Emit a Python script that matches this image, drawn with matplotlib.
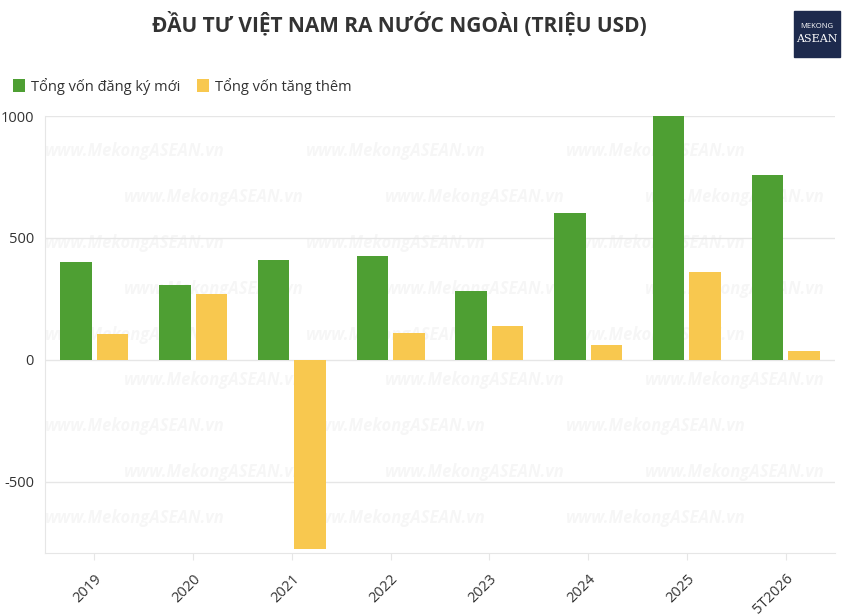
import numpy as np
import matplotlib
matplotlib.use('Agg')
import matplotlib.pyplot as plt
from matplotlib.patches import Rectangle

plt.rcParams['font.family'] = ['Open Sans', 'DejaVu Sans']

YEARS = ['2019', '2020', '2021', '2022', '2023', '2024', '2025', '5T2026']
NEW_CAPITAL = [402, 307, 410, 426, 283, 602, 1000, 758]
ADDED_CAPITAL = [107, 270, -775, 110, 139, 61, 360, 37]

GREEN = '#4e9f33'
YELLOW = '#f8c84f'
GRID = '#e6e6e6'

fig = plt.figure(figsize=(8.5, 6.15), dpi=100)
ax = fig.add_axes([45 / 850, 1 - 553 / 615, 790 / 850, (553 - 116) / 615])

x = np.arange(len(YEARS))
w = 0.32
gap = 0.05
ax.bar(x - w / 2 - gap / 2, NEW_CAPITAL, w, color=GREEN, label='Tổng vốn đăng ký mới', zorder=3)
ax.bar(x + w / 2 + gap / 2, ADDED_CAPITAL, w, color=YELLOW, label='Tổng vốn tăng thêm', zorder=3)

ax.set_xlim(-0.5, len(YEARS) - 0.5)
ax.set_ylim(-791, 1000)
ax.set_yticks([-500, 0, 500, 1000])
ax.set_yticklabels(['-500', '0', '500', '1000'])
ax.grid(axis='y', color=GRID, lw=1, zorder=0)
ax.set_xticks(x)
ax.set_xticklabels(YEARS, rotation=45, ha='right', rotation_mode='anchor', fontsize=10.5, color='#333333')
ax.tick_params(axis='y', length=0, labelsize=10.5, labelcolor='#333333', pad=8)
ax.tick_params(axis='x', length=5, color=GRID, pad=8)
for s in ['top', 'right']:
    ax.spines[s].set_visible(False)
for s in ['left', 'bottom']:
    ax.spines[s].set_color(GRID)

# watermark
for row, yy in enumerate(np.linspace(0.92, 0.08, 9)):
    off = 0.0 if row % 2 == 0 else 0.1
    for k in range(3):
        ax.text(off + k * 0.33, yy, 'www.MekongASEAN.vn', transform=ax.transAxes,
                fontsize=12, fontstyle='italic', fontweight='bold', color='#000000',
                alpha=0.035, ha='left', va='center', zorder=1)

fig.text(0.47, 0.96, 'ĐẦU TƯ VIỆT NAM RA NƯỚC NGOÀI (TRIỆU USD)', ha='center', va='center',
         fontsize=15, fontweight='bold', color='#333333')

leg = fig.legend(loc='upper left', bbox_to_anchor=(0.0, 0.895), ncol=2, frameon=False,
                 fontsize=10.5, handlelength=0.8, handleheight=1.0, handletextpad=0.4,
                 columnspacing=1.2, labelcolor='#333333')

# logo
fig.patches.append(Rectangle((794 / 850, 1 - 57 / 615), 46 / 850, 46 / 615,
                             transform=fig.transFigure, color='#1d2a4d'))
fig.text(817 / 850, 1 - 27 / 615, 'MEKONG', ha='center', va='center', fontsize=5.5, color='white')
fig.text(817 / 850, 1 - 39 / 615, 'ASEAN', ha='center', va='center', fontsize=8, color='white',
         family='DejaVu Serif')

fig.savefig('out.png')
